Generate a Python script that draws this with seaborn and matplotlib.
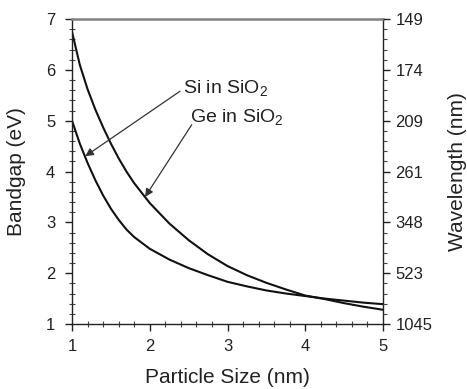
import matplotlib
matplotlib.use("Agg")
import matplotlib.pyplot as plt
from matplotlib.ticker import MultipleLocator
import seaborn as sns
import pandas as pd

# ---- data ----
size_nm = [1.0, 1.1, 1.2, 1.3, 1.4, 1.5, 1.6, 1.7, 1.8, 2.0, 2.25, 2.5, 2.75,
           3.0, 3.25, 3.5, 3.75, 4.0, 4.25, 4.5, 4.75, 5.0]
si_gap = [5.00, 4.55, 4.17, 3.83, 3.53, 3.27, 3.05, 2.86, 2.71, 2.48, 2.27, 2.10, 1.96,
          1.83, 1.74, 1.66, 1.60, 1.55, 1.50, 1.46, 1.42, 1.39]
ge_gap = [6.75, 6.10, 5.62, 5.22, 4.87, 4.55, 4.26, 4.00, 3.77, 3.38, 2.98, 2.65, 2.37,
          2.14, 1.96, 1.81, 1.68, 1.56, 1.49, 1.41, 1.34, 1.28]
gap_ticks = [1, 2, 3, 4, 5, 6, 7]
wavelength_labels = ["1045", "523", "348", "261", "209", "174", "149"]
x_ticks = [1, 2, 3, 4, 5]

df = pd.DataFrame({
    "size": size_nm * 2,
    "gap": si_gap + ge_gap,
    "series": ["Si in SiO2"] * len(size_nm) + ["Ge in SiO2"] * len(size_nm),
})

sns.set_theme(style="ticks")
plt.rcParams["font.family"] = ["Liberation Sans", "DejaVu Sans"]
plt.rcParams["mathtext.fontset"] = "custom"
plt.rcParams["mathtext.rm"] = "Liberation Sans"
plt.rcParams["mathtext.it"] = "Liberation Sans:italic"

fig = plt.figure(figsize=(4.67, 3.89), dpi=100)
ax = fig.add_axes([72 / 467, 65 / 389, 311 / 467, 305 / 389])

sns.lineplot(data=df, x="size", y="gap", hue="series",
             palette={"Si in SiO2": "#111111", "Ge in SiO2": "#111111"},
             linewidth=1.5, legend=False, ax=ax, sort=False)

ax.set_xlim(1, 5)
ax.set_ylim(1, 7)
ax.set_xticks(x_ticks)
ax.set_yticks(gap_ticks)
ax.xaxis.set_minor_locator(MultipleLocator(0.2))
ax.yaxis.set_minor_locator(MultipleLocator(0.2))

for s in ["left", "bottom", "right"]:
    ax.spines[s].set_color("#222222")
    ax.spines[s].set_linewidth(1.0)
ax.spines["top"].set_color("#808080")
ax.spines["top"].set_linewidth(1.8)

ax.tick_params(axis="both", which="major", direction="out", length=5, width=1.0,
               color="#222222", labelsize=12, labelcolor="#222222")
ax.tick_params(axis="y", which="major", pad=7)
ax.tick_params(axis="x", which="major", pad=6)
ax.tick_params(axis="both", which="minor", direction="inout", length=4, width=0.8,
               color="#444444")
ax.tick_params(top=False, which="both")

ax.set_xlabel("Particle Size (nm)", fontsize=15, color="#222222", va="center")
ax.xaxis.set_label_coords(0.5, -0.177)
ax.set_ylabel("Bandgap (eV)", fontsize=15, color="#222222", va="center")
ax.yaxis.set_label_coords(-0.18, 0.5)

# right wavelength axis
ax2 = ax.twinx()
ax2.set_ylim(1, 7)
ax2.set_yticks(gap_ticks)
ax2.set_yticklabels(wavelength_labels)
ax2.yaxis.set_minor_locator(MultipleLocator(0.2))
for s in ax2.spines.values():
    s.set_visible(False)
ax2.tick_params(axis="y", which="major", direction="out", length=5, width=1.0,
                color="#222222", labelsize=12, labelcolor="#222222", pad=4)
ax2.tick_params(axis="y", which="minor", direction="out", length=3, width=0.8,
                color="#444444")
ax2.set_ylabel("Wavelength (nm)", fontsize=15, color="#222222", va="center")
ax2.yaxis.set_label_coords(1.24, 0.5)

# annotations
arrow = dict(arrowstyle="-|>", color="#333333", lw=0.9, mutation_scale=12,
             shrinkA=0, shrinkB=0)
ax.annotate("", xy=(1.17, 4.30), xytext=(2.39, 5.58), arrowprops=arrow)
ax.annotate("", xy=(1.94, 3.50), xytext=(2.54, 4.92), arrowprops=arrow)
ax.text(2.43, 5.64, "Si in SiO$_2$", fontsize=14, ha="left", va="center",
        color="#222222")
ax.text(2.52, 5.07, "Ge in SiO$_2$", fontsize=14, ha="left", va="center",
        color="#222222")

fig.savefig("out.png", dpi=100)
